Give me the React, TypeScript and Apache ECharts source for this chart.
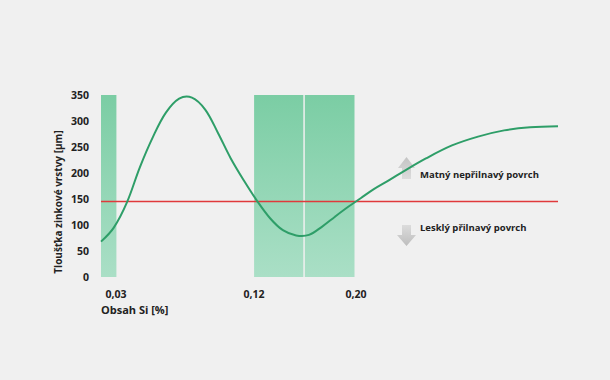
import React, { useEffect, useRef } from "react";
import * as echarts from "echarts";

// schematic x axis: 0..100 (left edge of plot to right edge)
const curveX = [0, 2.8, 5.7, 8.5, 11.4, 14.2, 17.1, 19.9, 22.8, 25.6, 28.4, 31.3, 34.1, 37.0, 39.8, 42.7, 45.5, 48.4, 51.2, 54.1, 56.9, 59.7, 62.6, 65.4, 71.1, 76.8, 82.5, 88.2, 93.9, 100];
const curveY = [68, 95, 144, 211, 270, 316, 343, 345, 322, 277, 228, 185, 147, 113, 90, 80, 81, 97, 116, 135, 152, 169, 184, 199, 228, 253, 270, 282, 288, 290];
const limitValue = 145;
const bandStart = [0, 33.5, 44.6];
const bandEnd = [3.7, 44.6, 55.8];
const bandTop = 350;
const siTickPos = [3.3, 33.5, 55.8];
const siTickLabels = ["0,03", "0,12", "0,20"];
const yAxisTitle = "Tloušťka zinkové vrstvy [µm]";
const xAxisTitle = "Obsah Si [%]";
const upLabel = "Matný nepřilnavý povrch";
const downLabel = "Lesklý přilnavý povrch";

const FONT = "'Open Sans', sans-serif";

export default function App() {
  const ref = useRef<HTMLDivElement>(null);
  useEffect(() => {
    document.body.style.margin = "0";
    document.body.style.background = "#f0f0f0";
    const chart = echarts.init(ref.current!, null, { renderer: "svg" });
    const grad = new echarts.graphic.LinearGradient(0, 0, 0, 1, [
      { offset: 0, color: "#7bcda4" },
      { offset: 1, color: "#aadfc6" },
    ]);
    const arrowGrad = new echarts.graphic.LinearGradient(0, 0, 0, 1, [
      { offset: 0, color: "#c4c4c4" },
      { offset: 1, color: "#dcdcdc" },
    ]);
    const arrowGradDown = new echarts.graphic.LinearGradient(0, 0, 0, 1, [
      { offset: 0, color: "#dcdcdc" },
      { offset: 1, color: "#bdbdbd" },
    ]);
    const labelStyle = {
      color: "#222",
      fontFamily: FONT,
      fontWeight: 700,
      fontSize: 10.5,
    };
    chart.setOption({
      animation: false,
      backgroundColor: "#f0f0f0",
      grid: { left: 101, right: 52, top: 95, bottom: 103 },
      xAxis: {
        type: "value",
        min: 0,
        max: 100,
        axisLine: { show: false },
        axisTick: { show: false },
        splitLine: { show: false },
        axisLabel: {
          customValues: siTickPos,
          margin: 11,
          ...labelStyle,
          formatter: (v: number) => {
            const i = siTickPos.findIndex((p) => Math.abs(p - v) < 1e-6);
            return i >= 0 ? siTickLabels[i] : "";
          },
        },
      },
      yAxis: {
        type: "value",
        min: 0,
        max: 350,
        interval: 50,
        axisLine: { show: false },
        axisTick: { show: false },
        splitLine: { show: false },
        axisLabel: { margin: 12, ...labelStyle },
      },
      series: [
        {
          type: "custom",
          z: 1,
          data: bandStart.map((s, i) => [s, bandEnd[i], bandTop]),
          encode: { x: [0, 1], y: 2 },
          renderItem: (params: any, api: any) => {
            const p0 = api.coord([api.value(0), api.value(2)]);
            const p1 = api.coord([api.value(1), 0]);
            return {
              type: "rect",
              shape: { x: p0[0], y: p0[1], width: p1[0] - p0[0] - 1.5, height: p1[1] - p0[1] },
              style: { fill: grad },
            };
          },
        },
        {
          type: "line",
          z: 3,
          data: [[0, limitValue], [100, limitValue]],
          symbol: "none",
          lineStyle: { color: "#e0393b", width: 1.5 },
        },
        {
          type: "custom",
          z: 4,
          data: [[curveX[0], curveY[0]]],
          encode: { x: 0, y: 1 },
          renderItem: (params: any, api: any) => {
            const pts = curveX.map((x, i) => api.coord([x, curveY[i]]));
            return {
              type: "polyline",
              shape: { points: pts, smooth: 0.35 },
              style: { stroke: "#2e9e68", lineWidth: 2, fill: "none" },
            };
          },
        },
      ],
      graphic: [
        {
          type: "text",
          x: 58,
          y: 202,
          rotation: Math.PI / 2,
          style: {
            text: yAxisTitle,
            fill: "#222",
            font: `700 10px ${FONT}`,
            align: "center",
            verticalAlign: "middle",
          },
        },
        {
          type: "text",
          left: 101,
          top: 304,
          style: { text: xAxisTitle, fill: "#222", font: `700 11px ${FONT}` },
        },
        {
          type: "polygon",
          shape: { points: [[398, 168], [406.5, 157], [415, 168], [411, 168], [411, 179], [402, 179], [402, 168]] },
          style: { fill: arrowGrad },
        },
        {
          type: "polygon",
          shape: { points: [[402, 225], [411, 225], [411, 235], [416, 235], [406.5, 246], [397, 235], [402, 235]] },
          style: { fill: arrowGradDown },
        },
        {
          type: "text",
          left: 420,
          top: 169,
          style: { text: upLabel, fill: "#222", font: `700 9.5px ${FONT}` },
        },
        {
          type: "text",
          left: 420,
          top: 222,
          style: { text: downLabel, fill: "#222", font: `700 9.5px ${FONT}` },
        },
      ],
    });
    return () => chart.dispose();
  }, []);
  return <div ref={ref} style={{ width: 610, height: 380 }} />;
}
